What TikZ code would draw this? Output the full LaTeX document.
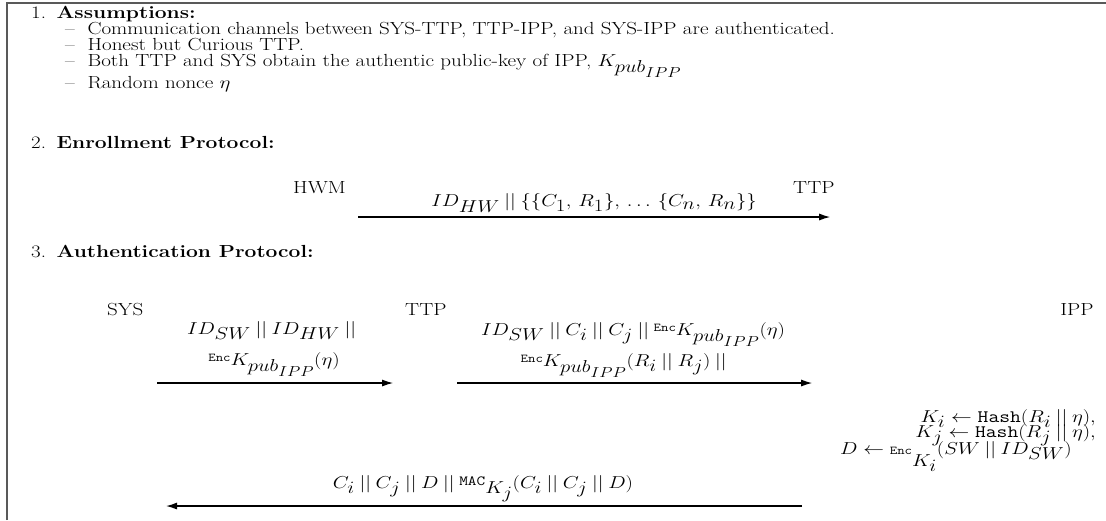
\documentclass[tikz,border=0pt]{standalone}
\usepackage{tikz}
\usetikzlibrary{arrows.meta, positioning}
\DeclareMathSizes{17.5}{18.5}{16}{13.5}
\newcommand{\Enc}{\hbox{\fontsize{12}{12}\ttfamily Enc}}
\newcommand{\Mac}{\hbox{\fontsize{14}{14}\ttfamily MAC}}
\newcommand{\Hash}{\hbox{\fontsize{17.5}{17.5}\ttfamily Hash}}
\newcommand{\Kpub}{K_{\lower2pt\hbox{$\scriptstyle pub$}\lower7pt\hbox{$\scriptscriptstyle IPP$}}}
\newcommand{\EncK}[1]{\raise4pt\Enc #1}
\newcommand{\MacK}[1]{\raise3pt\Mac\lower5pt\hbox{$#1$}}
\newcommand{\cat}{\mkern4mu||\mkern4mu}

\begin{document}
\begin{tikzpicture}[x=0.8333pt, y=-1pt, xscale=1.2,
  every node/.append style={transform shape},
  txt/.style={font=\fontsize{17.5}{20}\selectfont, inner sep=0pt},
  hd/.style={txt, anchor=base west},
  party/.style={txt, anchor=base west},
  msg/.style={txt, anchor=base},
  arr/.style={-{Latex[length=11pt, width=7pt]}, line width=1.2pt},
  frame/.style={line width=1.6pt, black!65}
]
\useasboundingbox (0,0) rectangle (1106,520);
% --- frame ---
\draw[frame] (7,520) -- (7,3) -- (1106,3);
% --- 1. Assumptions ---
\node[hd] (h1) at (31,18) {1.\enspace\textbf{Assumptions:}};
\node[hd] (a1) at (65,34) {-- \ Communication channels between SYS-TTP, TTP-IPP, and SYS-IPP are authenticated.};
\node[hd] (a2) at (65,50) {-- \ Honest but Curious TTP.};
\node[hd] (a3) at (65,66) {-- \ Both TTP and SYS obtain the authentic public-key of IPP, $\Kpub$};
\node[hd] (a4) at (65,88) {-- \ Random nonce $\eta$};
% --- 2. Enrollment ---
\node[hd] (h2) at (31,148) {2.\enspace\textbf{Enrollment Protocol:}};
\node[party] (hwm) at (293,193) {HWM};
\node[party] (ttpA) at (793,193) {TTP};
\coordinate (e1) at (358,217);
\coordinate (e2) at (830,217);
\draw[arr] (e1) -- node[msg, above=4pt] (m0)
  {$ID_{HW}\cat\{\{C_1,\, R_1\},\, \ldots\, \{C_n,\, R_n\}\}$} (e2);
% --- 3. Authentication ---
\node[hd] (h3) at (31,257) {3.\enspace\textbf{Authentication Protocol:}};
\node[party] (sys) at (107,315) {SYS};
\node[party] (ttp) at (405,315) {TTP};
\node[party] (ipp) at (1060,315) {IPP};
\coordinate (s1) at (157,383);
\coordinate (s2) at (393,383);
\coordinate (t1) at (457,383);
\coordinate (t2) at (812,383);
\coordinate (i1) at (802,506);
\coordinate (i2) at (166,506);
\node[msg] (m1a) at (274,334) {$ID_{SW}\cat ID_{HW}\cat$};
\node[msg] (m1b) at (274,365) {$\EncK{\Kpub}(\eta)$};
\draw[arr] (s1) -- (s2);
\node[msg] (m2a) at (633,335) {$ID_{SW}\cat C_i\cat C_j\cat\EncK{\Kpub}(\eta)$};
\node[msg] (m2b) at (626,366) {$\EncK{\Kpub}(R_i\cat R_j)\cat$};
\draw[arr] (t1) -- (t2);
\node[txt, anchor=base east] (k1) at (1096,422) {$K_i \leftarrow \Hash(R_i\cat\eta),$};
\node[txt, anchor=base east] (k2) at (1096,437) {$K_j \leftarrow \Hash(R_j\cat\eta),$};
\node[txt, anchor=base east] (dd) at (1072,454) {$D \leftarrow \Enc\lower12pt\hbox{$K_i$}(SW\cat ID_{SW})$};
\node[msg] (m3) at (483,488) {$C_i\cat C_j\cat D\cat\MacK{K_j}(C_i\cat C_j\cat D)$};
\draw[arr] (i1) -- (i2);
\end{tikzpicture}
\end{document}
